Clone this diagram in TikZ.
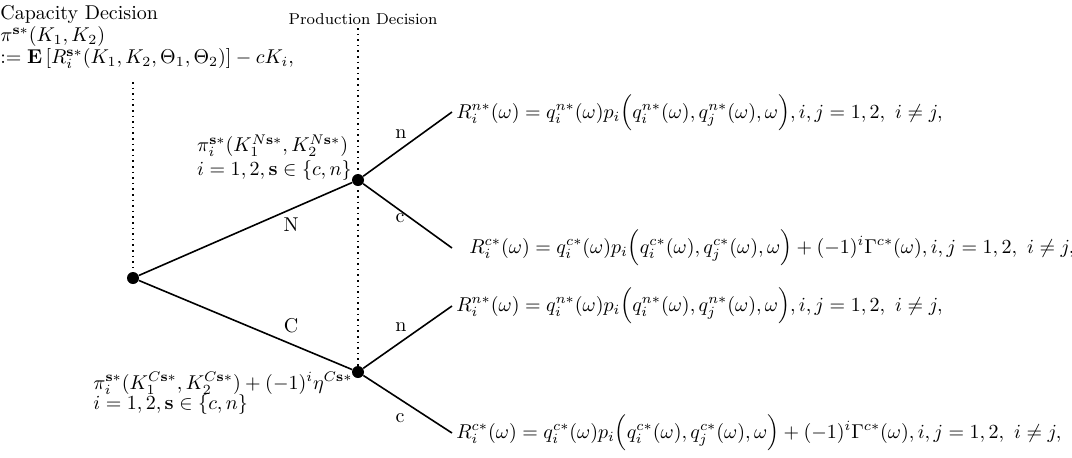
\documentclass[tikz,border=0pt]{standalone}
\usepackage{amsmath,amssymb}
\begin{document}
\begin{tikzpicture}[x=0.5pt,y=-0.5pt,
  dot/.style={circle,fill=black,inner sep=0pt,minimum size=6pt},
  branch/.style={line width=0.8pt},
  guide/.style={dotted,line width=0.8pt},
  lbl/.style={inner sep=0pt},
  form/.style={inner sep=0pt,anchor=west}]
\useasboundingbox (0,0) rectangle (1072,457);
% nodes
\node[dot] (root) at (133,278) {};
\node[dot] (up) at (358,180) {};
\node[dot] (lo) at (358,372) {};
\coordinate (topL) at (133,82);
\coordinate (topM) at (358,28);
% formulas
\node[form] (f1) at (456,113) {$R_i^{n*}(\omega)=q_i^{n*}(\omega)p_i\Big(q_i^{n*}(\omega),q_j^{n*}(\omega),\omega\Big),i,j=1,2,\ i\neq j,$};
\node[form] (f2) at (469,248) {$R_i^{c*}(\omega)=q_i^{c*}(\omega)p_i\Big(q_i^{c*}(\omega),q_j^{c*}(\omega),\omega\Big)+(-1)^i\Gamma^{c*}(\omega),i,j=1,2,\ i\neq j,$};
\node[form] (f3) at (456,306) {$R_i^{n*}(\omega)=q_i^{n*}(\omega)p_i\Big(q_i^{n*}(\omega),q_j^{n*}(\omega),\omega\Big),i,j=1,2,\ i\neq j,$};
\node[form] (f4) at (456,433) {$R_i^{c*}(\omega)=q_i^{c*}(\omega)p_i\Big(q_i^{c*}(\omega),q_j^{c*}(\omega),\omega\Big)+(-1)^i\Gamma^{c*}(\omega),i,j=1,2,\ i\neq j,$};
\coordinate (e1) at (452,112);
\coordinate (e2) at (452,248);
\coordinate (e3) at (452,306);
\coordinate (e4) at (452,433);
% guides
\draw[guide] (topL) -- (root);
\draw[guide] (topM) -- (lo);
% branches
\draw[branch] (root) -- (up);
\draw[branch] (root) -- (lo);
\draw[branch] (up) -- (e1);
\draw[branch] (up) -- (e2);
\draw[branch] (lo) -- (e3);
\draw[branch] (lo) -- (e4);
% labels
\node[lbl,anchor=north west,align=left] (cap) at (0,5) {Capacity Decision\\[-1pt]$\pi^{\mathbf{s}*}(K_1,K_2)$\\[-1pt]$:=\mathbf{E}\left[R_i^{\mathbf{s}*}(K_1,K_2,\Theta_1,\Theta_2)\right]-cK_i,$};
\node[lbl,font=\fontsize{7.9}{10}\selectfont] (prod) at (363,19) {Production Decision};
\node[lbl,anchor=south east,align=left] (uplbl) at (352,181) {$\pi_i^{\mathbf{s}*}(K_1^{N\mathbf{s}*},K_2^{N\mathbf{s}*})$\\$i=1,2,\mathbf{s}\in\{c,n\}$};
\node[lbl,anchor=north west,align=left] (lolbl) at (93,372) {$\pi_i^{\mathbf{s}*}(K_1^{C\mathbf{s}*},K_2^{C\mathbf{s}*})+(-1)^i\eta^{C\mathbf{s}*}$\\[-2pt]$i=1,2,\mathbf{s}\in\{c,n\}$};
\node[lbl] (N) at (291,225) {N};
\node[lbl] (C) at (291,326) {C};
\node[lbl] (n1) at (401,134) {n};
\node[lbl] (c1) at (400,218) {c};
\node[lbl] (n2) at (401,327) {n};
\node[lbl] (c2) at (400,418) {c};
\end{tikzpicture}
\end{document}
